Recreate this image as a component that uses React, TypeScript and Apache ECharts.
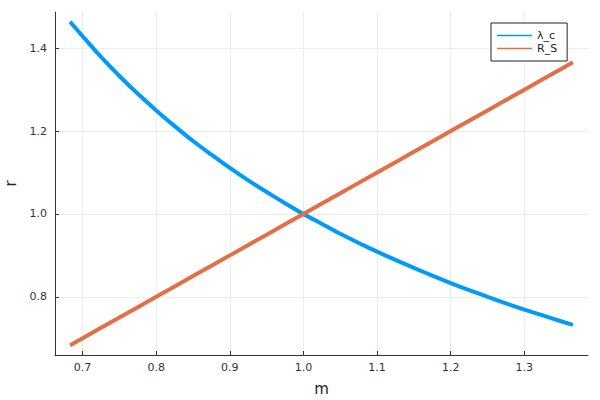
import React, { useEffect, useRef } from "react";
import * as echarts from "echarts";

const m = [0.683, 0.7, 0.725, 0.75, 0.775, 0.8, 0.825, 0.85, 0.875, 0.9, 0.925, 0.95, 0.975, 1.0, 1.025, 1.05, 1.075, 1.1, 1.125, 1.15, 1.175, 1.2, 1.225, 1.25, 1.275, 1.3, 1.325, 1.35, 1.366];
const lambdaC = [1.464, 1.429, 1.379, 1.333, 1.29, 1.25, 1.212, 1.176, 1.143, 1.111, 1.081, 1.053, 1.026, 1.0, 0.976, 0.952, 0.93, 0.909, 0.889, 0.87, 0.851, 0.833, 0.816, 0.8, 0.784, 0.769, 0.755, 0.741, 0.732];
const rS = [0.683, 0.7, 0.725, 0.75, 0.775, 0.8, 0.825, 0.85, 0.875, 0.9, 0.925, 0.95, 0.975, 1.0, 1.025, 1.05, 1.075, 1.1, 1.125, 1.15, 1.175, 1.2, 1.225, 1.25, 1.275, 1.3, 1.325, 1.35, 1.366];
const seriesNames = ["λ_c", "R_S"];
const xTicks = [0.7, 0.8, 0.9, 1.0, 1.1, 1.2, 1.3];
const yTicks = [0.8, 1.0, 1.2, 1.4];

const FONT = "DejaVu Sans";

export default function App() {
  const ref = useRef<HTMLDivElement>(null);
  useEffect(() => {
    const chart = echarts.init(ref.current!, null, { renderer: "svg" });
    const axisLine = { show: true, onZero: false, lineStyle: { color: "#333", width: 1 } };
    const splitLine = { show: true, lineStyle: { color: "#ededed", width: 1 } };
    const labelBase = { color: "#333", fontSize: 11, fontFamily: FONT };
    const nameStyle = { color: "#222", fontSize: 15, fontFamily: FONT };
    chart.setOption({
      animation: false,
      backgroundColor: "#fff",
      grid: {
        left: 55, right: 12, top: 12, bottom: 45,
        containLabel: false,
        outerBoundsMode: "none",
      },
      xAxis: {
        type: "value",
        min: 0.6625,
        max: 1.3865,
        name: "m",
        nameLocation: "middle",
        nameGap: 26,
        nameTextStyle: nameStyle,
        axisLine,
        splitLine,
        axisTick: { show: true, inside: true, length: 4, lineStyle: { color: "#333" }, customValues: xTicks },
        axisLabel: {
          ...labelBase,
          margin: 7,
          customValues: xTicks,
          formatter: (v: number) => v.toFixed(1),
        },
      },
      yAxis: {
        type: "value",
        min: 0.6595,
        max: 1.4875,
        name: "r",
        nameLocation: "middle",
        nameGap: 37,
        nameTextStyle: nameStyle,
        axisLine,
        splitLine,
        axisTick: { show: true, inside: true, length: 4, lineStyle: { color: "#333" }, customValues: yTicks },
        axisLabel: {
          ...labelBase,
          margin: 8,
          customValues: yTicks,
          formatter: (v: number) => v.toFixed(1),
        },
      },
      legend: {
        orient: "vertical",
        left: 491,
        top: 23,
        data: seriesNames,
        borderColor: "#222",
        borderWidth: 1,
        borderRadius: 0,
        backgroundColor: "#fff",
        padding: [6, 10, 6, 6],
        itemGap: 0,
        itemWidth: 35,
        itemHeight: 1.5,
        icon: "rect",
        textStyle: { fontSize: 11, fontFamily: FONT, color: "#222", lineHeight: 13, height: 13 },
      },
      series: [
        {
          type: "line",
          name: seriesNames[0],
          data: m.map((x, i) => [x, lambdaC[i]]),
          showSymbol: false,
          symbol: "none",
          smooth: 0.3,
          color: "#009AFA",
          lineStyle: { width: 4, color: "#009AFA" },
          z: 3,
        },
        {
          type: "line",
          name: seriesNames[1],
          data: m.map((x, i) => [x, rS[i]]),
          showSymbol: false,
          symbol: "none",
          color: "#E26F46",
          lineStyle: { width: 4, color: "#E26F46" },
          z: 4,
        },
      ],
    });
    return () => chart.dispose();
  }, []);
  return <div ref={ref} style={{ width: 600, height: 400, position: "absolute", left: 0, top: 0 }} />;
}
